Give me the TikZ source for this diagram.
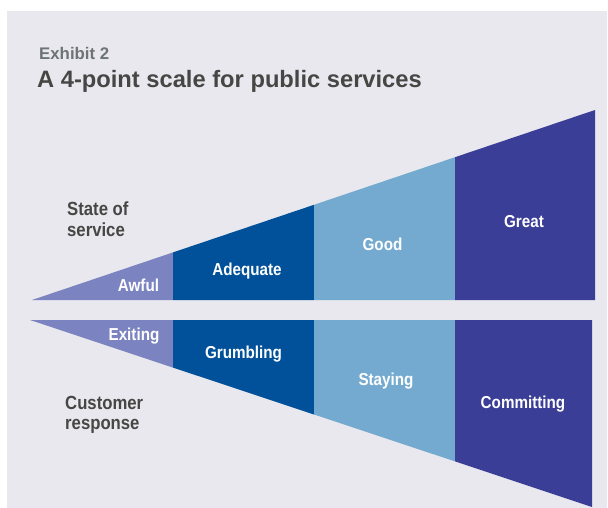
\documentclass[tikz,border=0pt]{standalone}
\usepackage{fontspec}
\setmainfont{Liberation Sans}
\newfontfamily\cond{Liberation Sans}[FakeStretch=0.88]
\definecolor{bgc}{HTML}{E8E8EE}
\definecolor{cA}{HTML}{7B83C1}
\definecolor{cB}{HTML}{00519A}
\definecolor{cC}{HTML}{74AACF}
\definecolor{cD}{HTML}{3B3E96}
\definecolor{titlec}{HTML}{464744}
\definecolor{exc}{HTML}{6D7475}
\tikzset{
  inlab/.style={anchor=base, inner sep=0pt, text=white, font=\cond\bfseries\fontsize{17.3}{20}\selectfont},
  sidelab/.style={anchor=base west, inner sep=0pt, text=titlec, font=\cond\bfseries\fontsize{19}{22}\selectfont},
}
\begin{document}
\begin{tikzpicture}[x=1pt,y=-1pt]
\useasboundingbox (0,0) rectangle (608,508);
\fill[white] (0,0) rectangle (608,508);
\fill[bgc] (7,11) rectangle (607,508);
% upper wedge
\fill[cA] (32,300) -- (173,252.4) -- (173,300) -- cycle;
\fill[cB] (173,300) -- (173,252.4) -- (314,204.8) -- (314,300) -- cycle;
\fill[cC] (314,300) -- (314,204.8) -- (455,157.2) -- (455,300) -- cycle;
\fill[cD] (455,300) -- (455,157.2) -- (595,110) -- (595,300) -- cycle;
% lower wedge
\fill[cA] (30,320) -- (173,320) -- (173,367.6) -- cycle;
\fill[cB] (173,320) -- (314,320) -- (314,414.5) -- (173,367.6) -- cycle;
\fill[cC] (314,320) -- (455,320) -- (455,461.4) -- (314,414.5) -- cycle;
\fill[cD] (455,320) -- (592,320) -- (592,507) -- (455,461.4) -- cycle;
% titles
\node[anchor=base west, inner sep=0pt, text=exc, font=\bfseries\fontsize{16.8}{20}\selectfont] (exhibit) at (39,60) {Exhibit 2};
\node[anchor=base west, inner sep=0pt, text=titlec, font=\bfseries\fontsize{23.7}{28}\selectfont] (title) at (37,88) {A 4-point scale for public services};
% side labels
\node[sidelab] (state1) at (67,215) {State of};
\node[sidelab] (state2) at (67,236) {service};
\node[sidelab] (cust1) at (65,409) {Customer};
\node[sidelab] (cust2) at (65,429) {response};
% inner labels
\node[inlab] (awful) at (138.5,291) {Awful};
\node[inlab] (adequate) at (247,275) {Adequate};
\node[inlab] (good) at (382.5,250.5) {Good};
\node[inlab] (great) at (524,227) {Great};
\node[inlab] (exiting) at (134,340) {Exiting};
\node[inlab] (grumbling) at (243.5,358) {Grumbling};
\node[inlab] (staying) at (386,385) {Staying};
\node[inlab] (committing) at (523,408) {Committing};
\end{tikzpicture}
\end{document}
